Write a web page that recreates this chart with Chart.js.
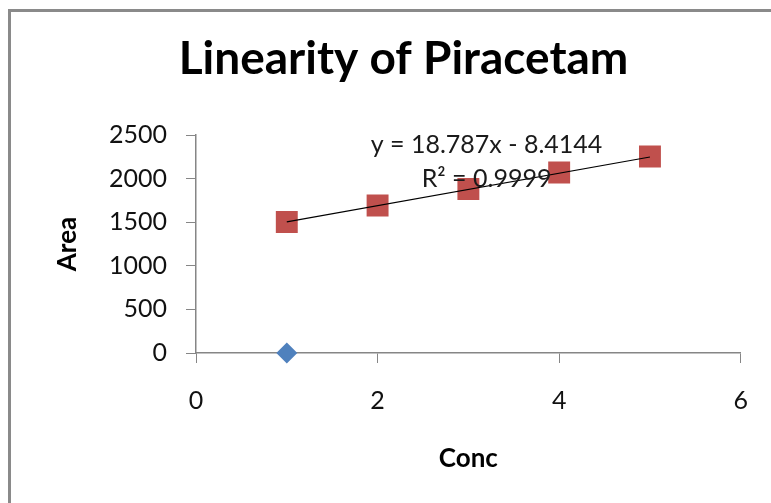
<!DOCTYPE html>
<html>
<head>
<meta charset="utf-8">
<script src="https://cdn.jsdelivr.net/npm/chart.js@4"></script>
<style>
  html, body { margin: 0; padding: 0; background: #fff; overflow: hidden; }
  #wrap { position: absolute; left: 0; top: 0; width: 771px; height: 503px; }
</style>
</head>
<body>
<div id="wrap"><canvas id="chart" width="771" height="503"></canvas></div>
<script>
// data
const conc = [1, 2, 3, 4, 5]
const area = [1502, 1691, 1881, 2070, 2253]
const blankConc = [1]
const blankArea = [0]
const trendConc = [1, 5]
const trendArea = [1503, 2248]
const eqLines = ['y = 18.787x - 8.4144', 'R\u00b2 = 0.9999']
const eqAnchor = { x: 3.2, y: [2385, 1995] }

const textColor = '#111'
const axisColor = '#868686'

const frame = {
    id: 'frame',
    beforeDraw(chart) {
        const c = chart.ctx
        c.save()
        c.fillStyle = '#fff'
        c.fillRect(0, 0, chart.width, chart.height)
        c.fillStyle = '#8a8a8a'
        c.fillRect(8, 9, 3, chart.height)
        c.fillRect(8, 9, chart.width, 3)
        c.restore()
    }
}

const equation = {
    id: 'equation',
    afterDatasetsDraw(chart) {
        const c = chart.ctx
        const xs = chart.scales.x, ys = chart.scales.y
        c.save()
        c.font = '25px Lato'
        c.fillStyle = '#1a1a1a'
        c.textAlign = 'center'
        c.textBaseline = 'middle'
        eqLines.forEach((t, i) => {
            c.fillText(t, xs.getPixelForValue(eqAnchor.x), ys.getPixelForValue(eqAnchor.y[i]))
        })
        c.restore()
    }
}

const toXY = (xs, ys) => xs.map((x, i) => ({ x: x, y: ys[i] }))

const chart = new Chart(document.getElementById('chart').getContext('2d'), {
    type: 'scatter',
    data: {
        datasets: [
            {
                label: 'Linear',
                data: toXY(trendConc, trendArea),
                showLine: true,
                borderColor: '#000',
                borderWidth: 1.2,
                pointRadius: 0,
                order: 0
            },
            {
                label: 'Area',
                data: toXY(conc, area),
                pointStyle: 'rect',
                pointRadius: 15.5,
                backgroundColor: '#C0504D',
                borderColor: '#C0504D',
                borderWidth: 0,
                order: 1
            },
            {
                label: 'Blank',
                data: toXY(blankConc, blankArea),
                pointStyle: 'rectRot',
                pointRadius: 10.5,
                backgroundColor: '#4F81BD',
                borderColor: '#4F81BD',
                borderWidth: 0,
                clip: false,
                order: 1
            }
        ]
    },
    options: {
        responsive: false,
        devicePixelRatio: 1,
        animation: false,
        layout: { padding: { left: 48, right: 12, top: 10, bottom: 25 } },
        plugins: {
            legend: { display: false },
            tooltip: { enabled: false },
            title: {
                display: true,
                text: 'Linearity of Piracetam',
                color: '#000',
                font: { family: 'Lato', size: 46, weight: 'bold' },
                padding: { top: 22, bottom: 47.8 }
            }
        },
        scales: {
            x: {
                type: 'linear',
                min: 0,
                max: 6,
                ticks: {
                    stepSize: 2,
                    color: textColor,
                    padding: 23,
                    font: { family: 'Lato', size: 25 }
                },
                grid: { drawOnChartArea: false, tickLength: 10, color: axisColor },
                border: { color: axisColor, width: 1.5 },
                title: {
                    display: true,
                    text: 'Conc',
                    color: '#000',
                    font: { family: 'Lato', size: 26, weight: 'bold' }
                },
                afterFit(scale) { scale.height = 125 }
            },
            y: {
                type: 'linear',
                min: 0,
                max: 2500,
                ticks: {
                    stepSize: 500,
                    color: textColor,
                    padding: 19,
                    format: { useGrouping: false },
                    font: { family: 'Lato', size: 25 }
                },
                grid: { drawOnChartArea: false, tickLength: 10, color: axisColor },
                border: { color: axisColor, width: 1.5 },
                title: {
                    display: true,
                    text: 'Area',
                    color: '#000',
                    font: { family: 'Lato', size: 26, weight: 'bold' }
                },
                afterFit(scale) { scale.width = 148 }
            }
        }
    },
    plugins: [frame, equation]
})
</script>
</body>
</html>
